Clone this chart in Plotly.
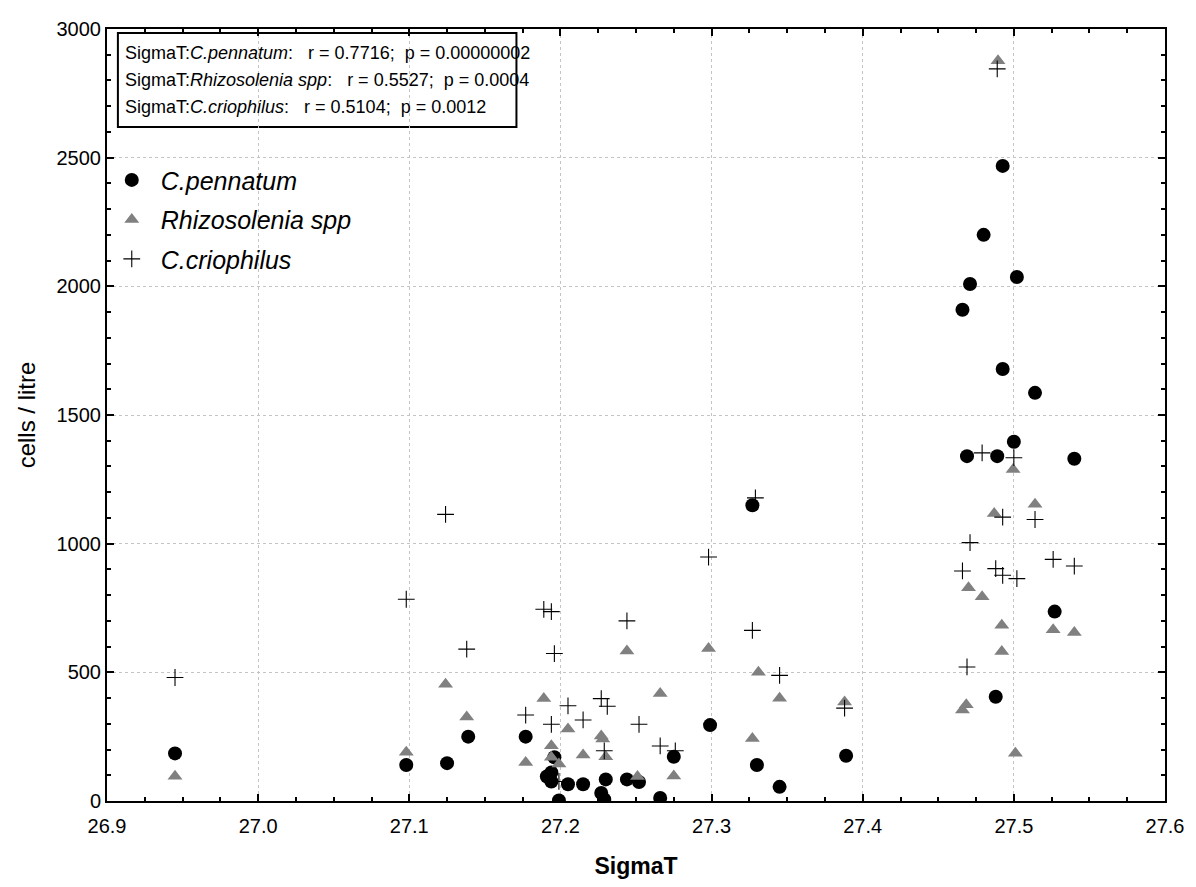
import plotly.graph_objects as go

# C.pennatum (circles)
pen_x = [26.945, 27.098, 27.125, 27.139, 27.177, 27.191, 27.194, 27.194, 27.196, 27.199,
         27.205, 27.215, 27.227, 27.229, 27.230, 27.244, 27.252, 27.266, 27.275, 27.299,
         27.327, 27.330, 27.345, 27.389, 27.466, 27.469, 27.471, 27.480, 27.488, 27.489,
         27.4926, 27.4926, 27.500, 27.502, 27.514, 27.527, 27.540]
pen_y = [185, 140, 147, 250, 250, 95, 111, 76, 170, 2,
         65, 65, 31, 6, 84, 84, 74, 12, 172, 295,
         1149, 140, 55, 176, 1909, 1340, 2009, 2200, 405, 1340,
         2468, 1679, 1396, 2036, 1586, 736, 1330]

# Rhizosolenia spp (triangles)
rhi_x = [26.945, 27.098, 27.124, 27.138, 27.177, 27.189, 27.194, 27.194, 27.199, 27.205,
         27.215, 27.227, 27.228, 27.230, 27.244, 27.251, 27.266, 27.275, 27.298, 27.327,
         27.331, 27.345, 27.388, 27.466, 27.4685, 27.470, 27.479, 27.487, 27.4895, 27.492,
         27.492, 27.4995, 27.501, 27.514, 27.526, 27.540]
rhi_y = [96, 189, 454, 326, 150, 398, 215, 170, 144, 280,
         179, 253, 241, 172, 583, 95, 418, 97, 593, 243,
         500, 399, 385, 354, 374, 829, 794, 1117, 2877, 683,
         581, 1288, 186, 1153, 665, 655]

# C.criophilus (crosses)
cri_x = [26.945, 27.098, 27.124, 27.138, 27.177, 27.189, 27.194, 27.196, 27.194, 27.199,
         27.205, 27.215, 27.227, 27.231, 27.229, 27.244, 27.252, 27.266, 27.276, 27.298,
         27.327, 27.329, 27.345, 27.388, 27.466, 27.469, 27.471, 27.479, 27.488, 27.489,
         27.4926, 27.4926, 27.500, 27.502, 27.514, 27.526, 27.540]
cri_y = [480, 784, 1114, 590, 334, 745, 736, 573, 298, 76,
         370, 315, 398, 368, 195, 700, 298, 214, 195, 948,
         663, 1178, 488, 361, 894, 521, 1004, 1353, 903, 2845,
         1103, 877, 1334, 864, 1094, 939, 913]

stats_lines = [
    "SigmaT:<i>C.pennatum</i>:\u00a0\u00a0 r = 0.7716;\u00a0 p = 0.00000002",
    "SigmaT:<i>Rhizosolenia spp</i>:\u00a0\u00a0 r = 0.5527;\u00a0 p = 0.0004",
    "SigmaT:<i>C.criophilus</i>:\u00a0\u00a0 r = 0.5104;\u00a0 p = 0.0012",
]

FONT = "Arial, Liberation Sans, sans-serif"

fig = go.Figure()
fig.add_trace(go.Scatter(x=pen_x, y=pen_y, mode="markers", name="<i>C.pennatum</i>",
                         legendgroup="a",
                         marker=dict(symbol="circle", size=14, color="black", line=dict(width=0))))
fig.add_trace(go.Scatter(x=rhi_x, y=rhi_y, mode="markers", name="<i>Rhizosolenia spp</i>",
                         legendgroup="b",
                         marker=dict(symbol="triangle-up", size=13, color="#808080", line=dict(width=0))))
fig.add_trace(go.Scatter(x=cri_x, y=cri_y, mode="markers", name="<i>C.criophilus</i>",
                         legendgroup="c",
                         marker=dict(symbol="cross-thin", size=12, color="black",
                                     line=dict(width=1.1, color="black"))))

# statistics box: three text lines inside a framed white rectangle
line_y = [0.9690, 0.9340, 0.8991]
annotations = [dict(text=t, xref="paper", yref="paper", x=0.0150, y=yy,
                    xanchor="left", yanchor="middle", align="left", showarrow=False,
                    font=dict(size=18, family=FONT, color="black"))
               for t, yy in zip(stats_lines, line_y)]

fig.update_layout(
    width=1196, height=887,
    margin=dict(l=107, r=22, t=29, b=85),
    paper_bgcolor="white", plot_bgcolor="white",
    font=dict(family=FONT, color="black", size=20),
    showlegend=True,
    legend=dict(x=-0.004, y=0.834, xanchor="left", yanchor="top",
                bgcolor="rgba(0,0,0,0)", borderwidth=0, itemwidth=48,
                font=dict(size=25, family=FONT), tracegroupgap=4),
    annotations=annotations,
    shapes=[dict(type="rect", xref="paper", yref="paper",
                 x0=0.0103, x1=0.3870, y0=0.8732, y1=0.9948,
                 line=dict(color="black", width=2), fillcolor="white", layer="below")],
)

fig.update_xaxes(range=[26.9, 27.6], tick0=26.9, dtick=0.1, tickformat=".1f",
                 ticks="inside", ticklen=7, tickwidth=2, tickcolor="black",
                 showline=True, linewidth=2, linecolor="black", mirror="ticks",
                 showgrid=True, gridcolor="#c4c4c4", griddash="dot", gridwidth=1,
                 zeroline=False, ticklabelstandoff=6,
                 minor=dict(dtick=0.025, ticks="inside", ticklen=4, tickwidth=1.5,
                            tickcolor="black", showgrid=False),
                 tickfont=dict(size=20),
                 title=dict(text="<b>SigmaT</b>", font=dict(size=23), standoff=22))
fig.update_yaxes(range=[0, 3000], tick0=0, dtick=500,
                 ticks="inside", ticklen=7, tickwidth=2, tickcolor="black",
                 showline=True, linewidth=2, linecolor="black", mirror="ticks",
                 showgrid=True, gridcolor="#c4c4c4", griddash="dot", gridwidth=1,
                 zeroline=False,
                 minor=dict(dtick=100, ticks="inside", ticklen=4, tickwidth=1.5,
                            tickcolor="black", showgrid=False),
                 tickfont=dict(size=20),
                 title=dict(text="cells / litre", font=dict(size=24), standoff=14))

fig.write_html("out.html")
